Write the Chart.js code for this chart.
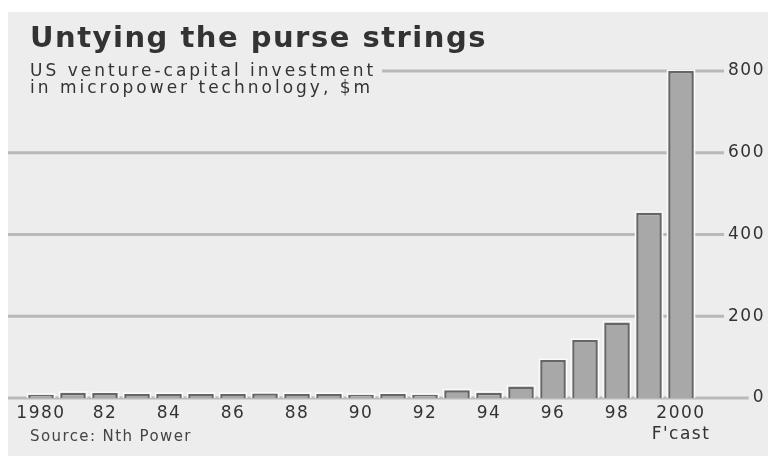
<!DOCTYPE html>
<html>
<head>
<meta charset="utf-8">
<script src="https://cdn.jsdelivr.net/npm/chart.js@4.4.0/dist/chart.umd.min.js"></script>
<style>
  html, body { margin: 0; padding: 0; background: #fff; }
  canvas { display: block; }
</style>
</head>
<body>
<canvas id="myChart" width="768" height="456"></canvas>
<script>
// data
const years = ['1980', '1981', '1982', '1983', '1984', '1985', '1986', '1987', '1988', '1989', '1990',
  '1991', '1992', '1993', '1994', '1995', '1996', '1997', '1998', '1999', '2000'];
const investment = [8, 13, 12, 10, 10, 10, 10, 11, 10, 10, 8, 10, 8, 19, 13, 28, 93, 142, 185, 453, 800];
const yearLabels = ['1980', '', '82', '', '84', '', '86', '', '88', '', '90', '', '92', '', '94', '', '96', '', '98', '', ['2000', "F'cast"]];
const valueTicks = [0, 200, 400, 600, 800];

const title = 'Untying the purse strings';
const subtitle = ['US venture-capital investment', 'in micropower technology, $m'];
const source = 'Source: Nth Power';

const BG = '#ededed';
const INK = '#333';
const GRID = '#b9b9b9';
const TICK_FONT = '17px "DejaVu Sans"';

const paper = {
  id: 'paper',
  beforeUpdate(chart) {
    chart.ctx.letterSpacing = '1.5px';
  },
  beforeDraw(chart) {
    const ctx = chart.ctx;
    ctx.save();
    ctx.fillStyle = '#fff';
    ctx.fillRect(0, 0, chart.width, chart.height);
    ctx.fillStyle = BG;
    ctx.fillRect(8, 12, chart.width - 8, chart.height - 12);
    ctx.restore();
    ctx.letterSpacing = '1.5px';
  },
  beforeDatasetsDraw(chart) {
    const ctx = chart.ctx;
    const y = chart.scales.y;
    ctx.save();

    // gridlines run from the panel edge up to each value label
    ctx.font = TICK_FONT;
    ctx.letterSpacing = '1.5px';
    ctx.strokeStyle = GRID;
    ctx.lineWidth = 3;
    y.ticks.forEach(t => {
      const py = y.getPixelForValue(t.value);
      const w = ctx.measureText(String(t.label)).width;
      ctx.beginPath();
      ctx.moveTo(8, py);
      ctx.lineTo(y.right - w - 4, py);
      ctx.stroke();
    });

    // headline
    ctx.fillStyle = INK;
    ctx.textBaseline = 'alphabetic';
    ctx.textAlign = 'left';
    ctx.font = 'bold 29px "DejaVu Sans"';
    ctx.letterSpacing = '1.5px';
    ctx.fillText(title, 30, 47);

    // subtitle knocks out the top gridline
    ctx.font = '17px "DejaVu Sans"';
    ctx.letterSpacing = '3px';
    const subW = Math.max(...subtitle.map(s => ctx.measureText(s).width));
    ctx.fillStyle = BG;
    ctx.fillRect(8, 58, 30 + subW + 6 - 8, 42);
    ctx.fillStyle = INK;
    subtitle.forEach((s, i) => ctx.fillText(s, 30, 76 + i * 17));

    // source line
    ctx.font = '15px "DejaVu Sans"';
    ctx.letterSpacing = '1.4px';
    ctx.fillStyle = '#444';
    ctx.fillText(source, 30, 441);

    // light halo round each bar
    ctx.fillStyle = '#fafafa';
    chart.getDatasetMeta(0).data.forEach(b => {
      ctx.fillRect(b.x - b.width / 2 - 1.5, b.y - 1.5, b.width + 3, b.base - b.y + 1.5);
    });
    ctx.restore();
    ctx.letterSpacing = '1.5px';
  }
};

const ctx = document.getElementById('myChart').getContext('2d');
new Chart(ctx, {
  type: 'bar',
  data: {
    labels: years,
    datasets: [{
      data: investment,
      backgroundColor: '#a8a8a8',
      borderColor: '#666',
      borderWidth: 2.5,
      borderSkipped: 'bottom',
      categoryPercentage: 1,
      barPercentage: 0.8
    }]
  },
  options: {
    responsive: false,
    animation: false,
    devicePixelRatio: 1,
    layout: { padding: { left: 25, right: 3, top: 71, bottom: 10 } },
    plugins: {
      legend: { display: false },
      tooltip: { enabled: false }
    },
    scales: {
      x: {
        grid: { display: false, drawTicks: false },
        border: { display: false },
        afterFit: scale => { scale.height = 48; },
        ticks: {
          autoSkip: false,
          maxRotation: 0,
          padding: 5,
          color: INK,
          font: { family: 'DejaVu Sans', size: 17, lineHeight: 1.25 },
          callback: (v, i) => yearLabels[i]
        }
      },
      y: {
        position: 'right',
        min: 0,
        max: 800,
        afterBuildTicks: scale => { scale.ticks = valueTicks.map(v => ({ value: v })); },
        afterFit: scale => { scale.width = 68; },
        grid: { display: false, drawTicks: false },
        border: { display: false },
        ticks: {
          padding: 31,
          crossAlign: 'far',
          color: INK,
          font: { family: 'DejaVu Sans', size: 17 }
        }
      }
    }
  },
  plugins: [paper]
});
</script>
</body>
</html>
